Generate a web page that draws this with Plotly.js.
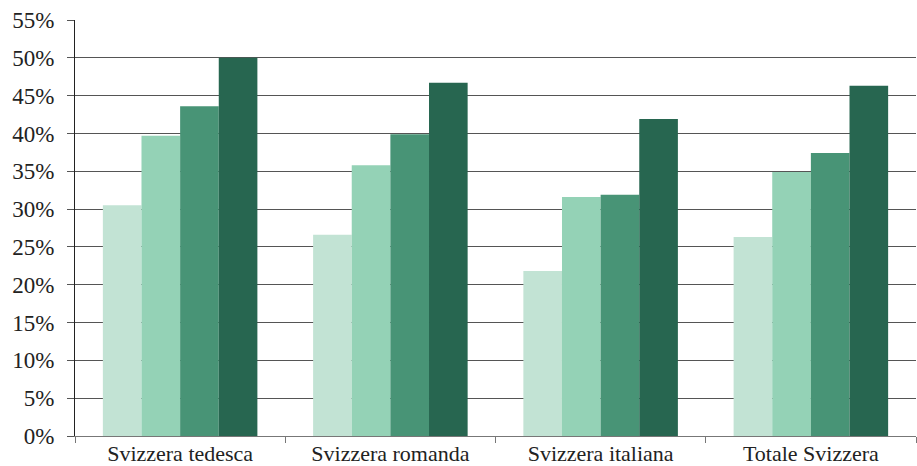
<!DOCTYPE html>
<html>
<head>
<meta charset="utf-8">
<script src="https://cdn.plot.ly/plotly-3.0.1.min.js"></script>
<style>html,body{margin:0;padding:0;background:#fff;}#chart{width:917px;height:466px;}</style>
</head>
<body>
<div id="chart"></div>
<script>
const categories = ["Svizzera tedesca", "Svizzera romanda", "Svizzera italiana", "Totale Svizzera"];
const series1 = [0.305, 0.266, 0.218, 0.263];
const series2 = [0.397, 0.358, 0.316, 0.349];
const series3 = [0.436, 0.399, 0.319, 0.374];
const series4 = [0.500, 0.467, 0.419, 0.463];
const seriesNames = ["Serie 1", "Serie 2", "Serie 3", "Serie 4"];
const colors = ["#c2e3d4", "#94d2b6", "#489476", "#276650"];
const tickVals = [0, 0.05, 0.10, 0.15, 0.20, 0.25, 0.30, 0.35, 0.40, 0.45, 0.50, 0.55];
const tickText = ["0%", "5%", "10%", "15%", "20%", "25%", "30%", "35%", "40%", "45%", "50%", "55%"];

const allSeries = [series1, series2, series3, series4];
const data = allSeries.map((vals, i) => ({
  type: "bar",
  x: categories,
  y: vals,
  name: seriesNames[i],
  marker: {color: colors[i], line: {width: 0}},
  hoverinfo: "x+y"
}));

const fontFam = "Liberation Serif, Times New Roman, serif";
const layout = {
  width: 917, height: 466,
  margin: {l: 75, r: 1, t: 20, b: 30, pad: 0},
  paper_bgcolor: "#fff", plot_bgcolor: "#fff",
  showlegend: false,
  barmode: "group",
  bargap: 0.265,
  bargroupgap: 0,
  font: {family: fontFam, size: 22, color: "#222"},
  xaxis: {
    type: "category",
    tickson: "boundaries",
    ticks: "outside", ticklen: 6, tickcolor: "#777", tickwidth: 1,
    showline: true, linecolor: "#777", linewidth: 1,
    showgrid: false, zeroline: false,
    ticklabelstandoff: -2,
    tickfont: {family: fontFam, size: 22, color: "#222"}
  },
  yaxis: {
    range: [0, 0.55],
    tickvals: tickVals, ticktext: tickText,
    ticks: "outside", ticklen: 7, tickcolor: "#555", tickwidth: 1,
    showgrid: true, gridcolor: "#555", gridwidth: 1,
    showline: true, linecolor: "#222", linewidth: 1,
    zeroline: false,
    ticklabelstandoff: 8,
    tickfont: {family: fontFam, size: 23, color: "#222"}
  }
};

Plotly.newPlot("chart", data, layout, {displayModeBar: false, staticPlot: true});
</script>
</body>
</html>
